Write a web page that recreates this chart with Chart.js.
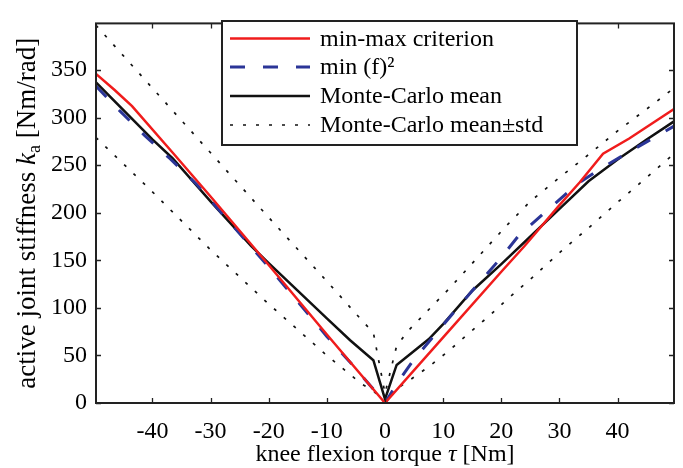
<!DOCTYPE html>
<html>
<head>
<meta charset="utf-8">
<script src="https://cdn.jsdelivr.net/npm/chart.js@4.4.0/dist/chart.umd.min.js"></script>
<style>
html,body{margin:0;padding:0;background:#fff;}
#wrap{width:683px;height:468px;position:relative;}
</style>
</head>
<body>
<div id="wrap"><canvas id="c" width="683" height="468"></canvas></div>
<script>
// ---------- data ----------
const xLimits = [-49.7, 49.7];
const yLimits = [0, 399];
const xTickValues = [-40, -30, -20, -10, 0, 10, 20, 30, 40];
const yTickValues = [0, 50, 100, 150, 200, 250, 300, 350];

const seriesLabels = ['min-max criterion', 'min (f)\u00B2', 'Monte-Carlo mean', 'Monte-Carlo mean\u00B1std'];

// min-max criterion (red)
const redTau = [-49.7, -46.5, -43.5, -36.5, -30, -20, -10, 0, 10, 20, 24, 30, 33.5, 37.5, 42, 49.7];
const redK   = [346, 329, 312, 263, 217, 145, 72, 0, 69, 138, 165, 208, 232, 262, 278, 309];

// min (f)^2 (blue dashed)
const blueTau = [-49.7, -45.6, -41.3, -37, -32.4, -20, -10, -5, 0, 2, 5, 10, 15, 20, 23, 28, 33, 37, 42, 49.7];
const blueK   = [333, 307, 281, 257, 230, 143, 70, 36, 0, 20, 46, 82, 118, 153, 176, 203, 230, 246, 264, 291];

// Monte-Carlo mean (black)
const meanTau = [-49.7, -40, -36.5, -30, -23, -20, -10, -6, -2, 0, 2, 7.5, 10, 15, 20, 25, 30, 35, 40, 45, 49.7];
const meanK   = [337, 277, 257, 212, 165, 147, 89, 66, 45, 4, 40, 67, 83, 118, 146, 175, 204, 233, 256, 277, 296];

// Monte-Carlo mean +/- std (black dotted)
const stdTau   = [-49.7, -40, -30, -20, -10, -4, -2, 0, 2, 4, 7.5, 11, 14, 18, 21, 25, 30, 35, 40, 45, 49.7];
const upperK   = [397, 331, 263, 195, 128, 87, 74, 10, 60, 76, 98, 120, 140, 167, 187, 212, 237, 261, 286, 309, 331];
const lowerK   = [279, 222, 161, 104, 50, 20, 13, 0, 15, 23, 38, 55, 71, 92, 109, 130, 158, 184, 211, 237, 262];

// ---------- helpers ----------
const FONT = '"Liberation Serif", "Times New Roman", serif';
const toPts = (xs, ys) => xs.map((x, i) => ({x: x, y: ys[i]}));

const datasets = [
  {label: seriesLabels[0], data: toPts(redTau, redK), borderColor: '#f01c1c', borderWidth: 2.5, borderDash: [], showInLegend: true},
  {label: seriesLabels[1], data: toPts(blueTau, blueK), borderColor: '#2b3597', borderWidth: 3, borderDash: [15, 18], showInLegend: true},
  {label: seriesLabels[2], data: toPts(meanTau, meanK), borderColor: '#111111', borderWidth: 2.5, borderDash: [], showInLegend: true},
  {label: seriesLabels[3], data: toPts(stdTau, upperK), borderColor: '#111111', borderWidth: 1.7, borderDash: [3, 10], showInLegend: true},
  {label: seriesLabels[3], data: toPts(stdTau, lowerK), borderColor: '#111111', borderWidth: 1.7, borderDash: [3, 10], showInLegend: false}
].map(d => Object.assign({pointRadius: 0, tension: 0, fill: false, borderJoinStyle: 'miter'}, d));

// frame + inward ticks
const framePlugin = {
  id: 'frame',
  afterDraw(chart) {
    const ctx = chart.ctx, a = chart.chartArea;
    const xs = chart.scales.x, ys = chart.scales.y;
    const L = 5;
    ctx.save();
    ctx.strokeStyle = '#222';
    ctx.lineWidth = 1.3;
    ctx.beginPath();
    xs.ticks.forEach(t => {
      const px = Math.round(xs.getPixelForValue(t.value)) + 0.5;
      ctx.moveTo(px, a.bottom); ctx.lineTo(px, a.bottom - L);
      ctx.moveTo(px, a.top); ctx.lineTo(px, a.top + L);
    });
    ys.ticks.forEach(t => {
      const py = Math.round(ys.getPixelForValue(t.value)) + 0.5;
      ctx.moveTo(a.left, py); ctx.lineTo(a.left + L, py);
      ctx.moveTo(a.right, py); ctx.lineTo(a.right - L, py);
    });
    ctx.stroke();
    ctx.lineWidth = 2;
    ctx.strokeRect(a.left, a.top, a.right - a.left, a.bottom - a.top);
    ctx.restore();
  }
};

// boxed legend inside plot
const legendPlugin = {
  id: 'boxLegend',
  afterDraw(chart) {
    const ctx = chart.ctx;
    const box = {x: 222, y: 21, w: 355, h: 124};
    ctx.save();
    ctx.fillStyle = '#fff';
    ctx.fillRect(box.x, box.y, box.w, box.h);
    ctx.strokeStyle = '#222';
    ctx.lineWidth = 2;
    ctx.strokeRect(box.x, box.y, box.w, box.h);
    const items = chart.data.datasets.filter(d => d.showInLegend);
    const rowY = [38.5, 67, 96, 125];
    items.forEach((d, i) => {
      const y = rowY[i];
      ctx.beginPath();
      ctx.strokeStyle = d.borderColor;
      ctx.lineWidth = d.borderWidth;
      ctx.setLineDash(d.borderDash || []);
      ctx.moveTo(230, y); ctx.lineTo(310, y);
      ctx.stroke();
      ctx.setLineDash([]);
      ctx.fillStyle = '#000';
      ctx.font = '24px ' + FONT;
      ctx.textBaseline = 'middle';
      ctx.textAlign = 'left';
      ctx.fillText(d.label, 320, y + 1);
    });
    ctx.restore();
  }
};

// axis titles with italic symbols
function drawParts(ctx, parts, x, y) {
  let cx = x;
  parts.forEach(p => {
    ctx.font = p.font;
    ctx.fillText(p.text, cx, y + (p.dy || 0));
    cx += ctx.measureText(p.text).width;
  });
}
function partsWidth(ctx, parts) {
  let w = 0;
  parts.forEach(p => { ctx.font = p.font; w += ctx.measureText(p.text).width; });
  return w;
}
const titlePlugin = {
  id: 'axisTitles',
  afterDraw(chart) {
    const ctx = chart.ctx, a = chart.chartArea;
    const reg = '24px ' + FONT, ita = 'italic 24px ' + FONT;
    const regY = '27px ' + FONT, itaY = 'italic 27px ' + FONT, subY = '18px ' + FONT;
    ctx.save();
    ctx.fillStyle = '#000';
    ctx.textBaseline = 'alphabetic';
    ctx.textAlign = 'left';
    const xParts = [{text: 'knee flexion torque ', font: reg}, {text: '\u03C4', font: ita}, {text: ' [Nm]', font: reg}];
    const xw = partsWidth(ctx, xParts);
    drawParts(ctx, xParts, (a.left + a.right) / 2 - xw / 2, 461);
    const yParts = [{text: 'active joint stiffness ', font: regY}, {text: 'k', font: itaY}, {text: 'a', font: subY, dy: 5}, {text: ' [Nm/rad]', font: regY}];
    const yw = partsWidth(ctx, yParts);
    ctx.translate(35, (a.top + a.bottom) / 2);
    ctx.rotate(-Math.PI / 2);
    drawParts(ctx, yParts, -yw / 2, 0);
    ctx.restore();
  }
};

new Chart(document.getElementById('c'), {
  type: 'line',
  data: {datasets: datasets},
  options: {
    responsive: false,
    animation: false,
    devicePixelRatio: 1,
    layout: {padding: {left: 0, right: 9, top: 9, bottom: 0}},
    plugins: {legend: {display: false}, tooltip: {enabled: false}},
    scales: {
      x: {
        type: 'linear', min: xLimits[0], max: xLimits[1],
        grid: {display: false, drawTicks: false},
        border: {display: false},
        ticks: {color: '#000', padding: 14, maxRotation: 0, autoSkip: false,
                font: {family: FONT, size: 24}},
        afterBuildTicks(s) { s.ticks = xTickValues.map(v => ({value: v})); },
        afterFit(s) { s.height = 65; }
      },
      y: {
        type: 'linear', min: yLimits[0], max: yLimits[1],
        grid: {display: false, drawTicks: false},
        border: {display: false},
        ticks: {color: '#000', padding: 9, autoSkip: false,
                font: {family: FONT, size: 24}},
        afterBuildTicks(s) { s.ticks = yTickValues.map(v => ({value: v})); },
        afterFit(s) { s.width = 96; }
      }
    }
  },
  plugins: [framePlugin, legendPlugin, titlePlugin]
});
</script>
</body>
</html>
